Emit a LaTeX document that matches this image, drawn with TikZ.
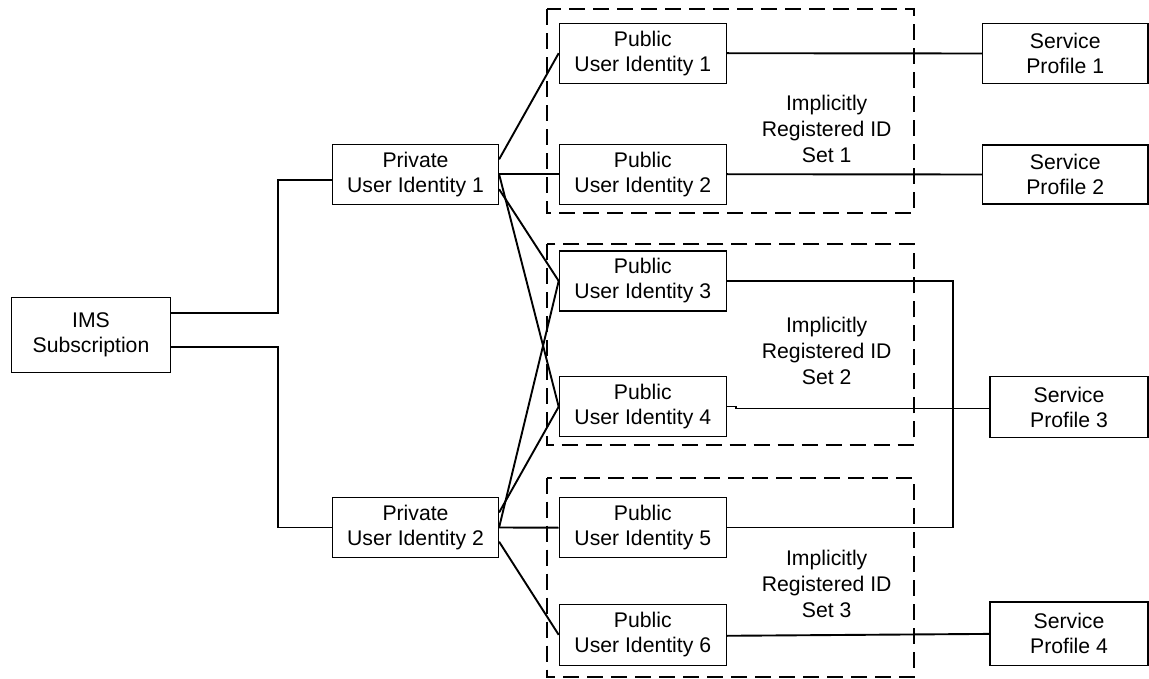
\documentclass[tikz,border=0pt]{standalone}
\usepackage{fontspec}
\setmainfont{Liberation Sans}
\begin{document}
\begin{tikzpicture}[x=1pt,y=-1pt,
  box/.style={draw, line width=1.2pt, minimum width=167pt, minimum height=60pt, align=center, inner sep=0pt, font=\fontsize{21.2}{25}\selectfont},
  lbl/.style={align=center, inner sep=0pt, font=\fontsize{21.2}{26}\selectfont},
  conn/.style={line width=1.9pt},
  thinconn/.style={line width=1.3pt},
  groupbox/.style={draw, line width=1.8pt, dash pattern=on 16pt off 8pt}]
\useasboundingbox (0,0) rectangle (1149,679);
% groups
\draw[groupbox] (546.7,9.3) rectangle (914,213);
\draw[groupbox] (546.7,244) rectangle (914,445);
\draw[groupbox] (546.7,477.7) rectangle (914,677);
\node[lbl] (g1) at (826.7,129) {Implicitly\\Registered ID\\Set 1};
\node[lbl] (g2) at (826.7,351) {Implicitly\\Registered ID\\Set 2};
\node[lbl] (g3) at (826.7,583.7) {Implicitly\\Registered ID\\Set 3};
% nodes
\node[box, minimum width=158.7pt, minimum height=74.6pt] (ims) at (91,335) {IMS\\Subscription};
\node[box, minimum width=166pt] (priv1) at (415.5,174.2) {Private\\User Identity 1};
\node[box, minimum width=166pt] (priv2) at (415.5,527.5) {Private\\User Identity 2};
\node[box] (pui1) at (642.8,53.2) {Public\\User Identity 1};
\node[box] (pui2) at (642.8,174.2) {Public\\User Identity 2};
\node[box] (pui3) at (642.8,281) {Public\\User Identity 3};
\node[box] (pui4) at (642.8,406.7) {Public\\User Identity 4};
\node[box] (pui5) at (642.8,527.7) {Public\\User Identity 5};
\node[box, minimum height=61pt] (pui6) at (642.8,634.8) {Public\\User Identity 6};
\node[box, minimum width=165.7pt, minimum height=59.4pt] (sp1) at (1065.2,53.5) {Service\\Profile 1};
\node[box, minimum width=165.7pt, minimum height=59pt] (sp2) at (1065.2,174.5) {Service\\Profile 2};
\node[box, minimum width=158pt, minimum height=60.6pt] (sp3) at (1069,407.1) {Service\\Profile 3};
\node[box, minimum width=158pt, minimum height=63.7pt] (sp4) at (1069,633.9) {Service\\Profile 4};
% connectors
\draw[conn] ([yshift=22.3pt]ims.east) -| ([xshift=-53.9pt,yshift=-6pt]priv1.west) -- ([yshift=-6pt]priv1.west);
\draw[conn] ([yshift=-12pt]ims.east) -| ([xshift=-53.9pt]priv2.west) -- (priv2.west);
\draw[conn] ([yshift=14.9pt]priv1.east) -- (pui1.west);
\draw[conn] (priv1.east) -- (pui2.west);
\draw[conn] (priv1.east) -- (pui4.west);
\draw[conn] ([yshift=-15pt]priv1.east) -- (pui3.west);
\draw[conn] (priv2.east) -- (pui5.west);
\draw[conn] (priv2.east) -- (pui3.west);
\draw[conn] ([yshift=15pt]priv2.east) -- (pui4.west);
\draw[conn] ([yshift=-14.2pt]priv2.east) -- (pui6.west);
\draw[conn] (pui1.east) -- (sp1.west);
\draw[conn] (pui2.east) -- (sp2.west);
\draw[thinconn] (pui3.east) -- ++(226,0) |- (pui5.east);
\draw[thinconn] (pui4.east) -- ++(9,0) -- ++(0,1.6) -- ([yshift=-1.2pt]sp3.west);
\draw[conn] ([yshift=-1pt]pui6.east) -- (sp4.west);
\end{tikzpicture}
\end{document}
